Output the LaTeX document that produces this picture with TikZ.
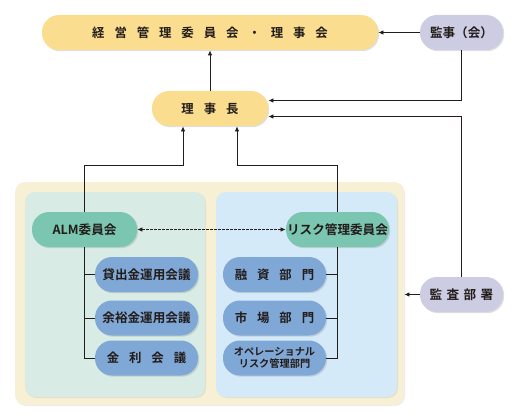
\documentclass[tikz,border=0pt]{standalone}
\usepackage{fontspec}
\setmainfont{Noto Sans CJK JP}[UprightFont=* Bold]
\usetikzlibrary{arrows.meta,shadows}

\definecolor{ink}{RGB}{35,28,26}
\definecolor{topyellow}{RGB}{250,221,142}
\definecolor{audit}{RGB}{204,204,226}
\definecolor{cream}{RGB}{248,240,213}
\definecolor{almpanel}{RGB}{216,235,228}
\definecolor{riskpanel}{RGB}{212,234,248}
\definecolor{committee}{RGB}{122,198,176}
\definecolor{section}{RGB}{128,168,214}

\begin{document}
\begin{tikzpicture}[x=1pt, y=-1pt, line width=0.8pt, draw=ink,
  >={Latex[length=5pt,width=4.5pt]},
  box/.style={rounded corners=17pt, minimum height=35pt, inner sep=0pt, text=ink,
    font=\fontsize{12.6}{14}\selectfont,
    drop shadow={shadow xshift=1.2pt, shadow yshift=-1.2pt, opacity=0.25}},
  wide/.style={font={\fontsize{12.4}{14}\selectfont\spaceskip=0.8em\relax}},
  panel/.style={rounded corners=10pt, inner sep=0pt,
    drop shadow={shadow xshift=1pt, shadow yshift=-1pt, opacity=0.15}}]
\useasboundingbox (0,0) rectangle (520,420);

% panels
\node[panel, fill=cream, minimum width=389pt, minimum height=223pt] (outer) at (209.5,293.5) {};
\node[panel, fill=almpanel, minimum width=180pt, minimum height=205pt] (left) at (115,294.5) {};
\node[panel, fill=riskpanel, minimum width=181pt, minimum height=205pt] (right) at (306.5,294.5) {};

% top level
\node[box, wide, fill=topyellow, minimum width=336pt] (board) at (210,32.5) {経 営 管 理 委 員 会 ・ 理 事 会};
\node[box, fill=audit, minimum width=83pt] (auditor) at (461.5,32.5) {監事（会）};
\node[box, wide, fill=topyellow, minimum width=116pt] (chair) at (210,108.5) {理 事 長};
\node[box, fill=audit, minimum width=83pt, font={\fontsize{12.6}{14}\selectfont\spaceskip=0.35em\relax}] (auditdept) at (461.5,294.5) {監 査 部 署};

% committees
\node[box, fill=committee, minimum width=105pt] (alm) at (84.5,229.5) {ALM委員会};
\node[box, fill=committee, minimum width=103pt] (risk) at (337.5,229.5) {リスク管理委員会};

\node[box, fill=section, minimum width=103pt] (loan) at (146.5,274.5) {貸出金運用会議};
\node[box, fill=section, minimum width=103pt] (surplus) at (146.5,318) {余裕金運用会議};
\node[box, wide, fill=section, minimum width=103pt] (rate) at (146.5,358) {金 利 会 議};

\node[box, wide, fill=section, minimum width=103pt] (credit) at (274.5,274.5) {融 資 部 門};
\node[box, wide, fill=section, minimum width=103pt] (market) at (274.5,318) {市 場 部 門};
\node[box, fill=section, minimum width=103pt, align=center,
  font=\fontsize{10.2}{12}\selectfont] (oper) at (274.5,358) {オペレーショナル\\リスク管理部門};

% connectors
\draw[->] (auditor) -- (board);
\draw[->] (chair) -- (board);
\draw[->] (auditor.south) |- ([yshift=8pt]chair.east);
\draw[->] (auditdept.north) |- ([yshift=-8pt]chair.east);
\draw[->] (auditdept) -- (auditdept -| outer.east);
\draw[->] (alm.north) |- ([xshift=-27pt,yshift=-39pt]chair.south) -- ([xshift=-27pt]chair.south);
\draw[->] (risk.north) |- ([xshift=27pt,yshift=-39pt]chair.south) -- ([xshift=27pt]chair.south);
\draw[<->, line width=0.7pt, dash pattern=on 2.5pt off 1.5pt] (alm) -- (risk);
\draw (alm.south) |- (loan.west);
\draw (alm.south) |- (surplus.west);
\draw (alm.south) |- (rate.west);
\draw (risk.south) |- (credit.east);
\draw (risk.south) |- (market.east);
\draw (risk.south) |- (oper.east);
\end{tikzpicture}
\end{document}
